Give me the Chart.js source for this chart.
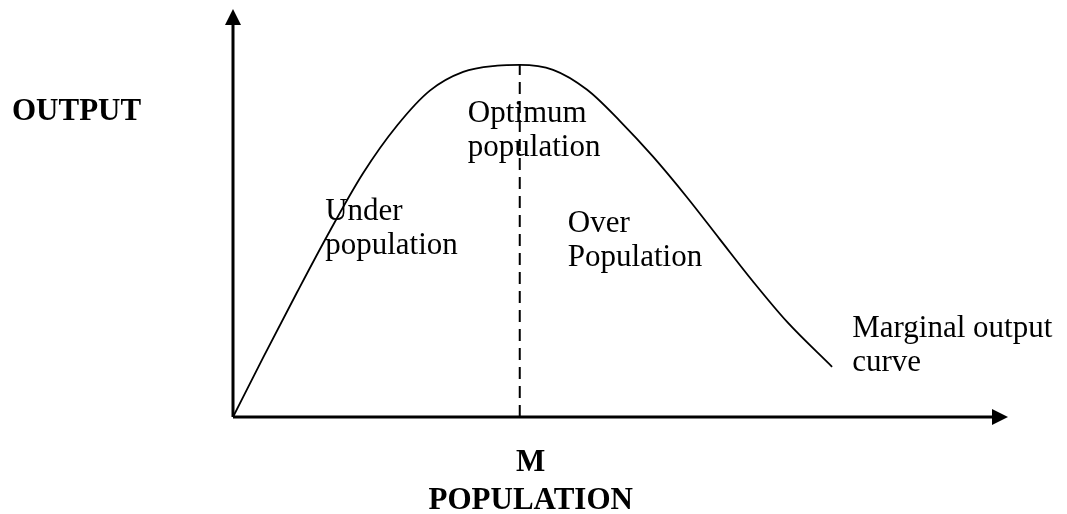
<!DOCTYPE html>
<html>
<head>
<meta charset="utf-8">
<script src="https://cdn.jsdelivr.net/npm/chart.js@4"></script>
<style>
  html, body { margin: 0; padding: 0; background: #fff; }
  #wrap { width: 1067px; height: 514px; }
</style>
</head>
<body>
<div id="wrap"><canvas id="mpChart" width="1067" height="514"></canvas></div>
<script>
// population (x) and marginal output (y)
const population = [0, 3.9, 8.3, 12.5, 16.8, 21.2, 25.4, 29.7, 34.1, 37.0, 41.3, 45.7, 49.9, 54.2, 58.6, 62.8, 67.1, 71.5, 77.3];
const output = [0, 14.6, 30.7, 45.6, 59.8, 71.5, 80.0, 84.6, 86.1, 86.3, 85.1, 80.2, 72.6, 63.8, 53.8, 43.6, 33.2, 23.3, 12.3];

// optimum point M
const optimumX = [37.0, 37.0];
const optimumY = [0, 86.3];

// text inside the plot: lines, x and baseline y of first line, in data units
const regionLabels = [
  { lines: ["Under", "population"], x: 11.9, y: 48.3 },
  { lines: ["Optimum", "population"], x: 30.3, y: 72.3 },
  { lines: ["Over", "Population"], x: 43.2, y: 45.3 },
  { lines: ["Marginal output", "curve"], x: 79.9, y: 19.6 },
];

const serif = "'Liberation Serif', 'Times New Roman', serif";

const diagramPlugin = {
  id: "diagram",
  afterDatasetsDraw(chart) {
    const ctx = chart.ctx;
    const a = chart.chartArea;
    const xs = chart.scales.x, ys = chart.scales.y;
    ctx.save();
    ctx.fillStyle = "#000";
    ctx.strokeStyle = "#000";

    // axes
    ctx.lineWidth = 3;
    ctx.beginPath();
    ctx.moveTo(a.left, a.bottom);
    ctx.lineTo(a.left, a.top + 14);
    ctx.moveTo(a.left, a.bottom);
    ctx.lineTo(a.right - 14, a.bottom);
    ctx.stroke();

    // arrow heads
    ctx.beginPath();
    ctx.moveTo(a.left, a.top);
    ctx.lineTo(a.left - 8, a.top + 16);
    ctx.lineTo(a.left + 8, a.top + 16);
    ctx.closePath();
    ctx.fill();
    ctx.beginPath();
    ctx.moveTo(a.right, a.bottom);
    ctx.lineTo(a.right - 16, a.bottom - 8);
    ctx.lineTo(a.right - 16, a.bottom + 8);
    ctx.closePath();
    ctx.fill();

    // region labels
    ctx.font = "31px " + serif;
    ctx.textAlign = "left";
    ctx.textBaseline = "alphabetic";
    regionLabels.forEach((l) => {
      const px = xs.getPixelForValue(l.x);
      const py = ys.getPixelForValue(l.y);
      l.lines.forEach((t, i) => ctx.fillText(t, px, py + i * 34));
    });

    // axis titles
    ctx.font = "bold 31px " + serif;
    ctx.fillText("OUTPUT", 12, 120);
    ctx.textAlign = "center";
    ctx.fillText("M", xs.getPixelForValue(optimumX[0]) + 11, 471);
    ctx.fillText("POPULATION", xs.getPixelForValue(optimumX[0]) + 11, 509);
    ctx.restore();
  },
};

new Chart(document.getElementById("mpChart"), {
  type: "line",
  data: {
    datasets: [
      {
        label: "Marginal output curve",
        data: population.map((x, i) => ({ x: x, y: output[i] })),
        borderColor: "#000",
        borderWidth: 1.8,
        pointRadius: 0,
        cubicInterpolationMode: "monotone",
        fill: false,
        clip: false,
      },
      {
        label: "Optimum population",
        data: optimumX.map((x, i) => ({ x: x, y: optimumY[i] })),
        borderColor: "#000",
        borderWidth: 2,
        borderDash: [12, 7],
        pointRadius: 0,
        fill: false,
        clip: false,
      },
    ],
  },
  options: {
    responsive: false,
    animation: false,
    layout: { padding: { left: 233, right: 59, top: 9, bottom: 97 } },
    scales: {
      x: { type: "linear", min: 0, max: 100, display: false },
      y: { type: "linear", min: 0, max: 100, display: false },
    },
    plugins: {
      legend: { display: false },
      tooltip: { enabled: false },
    },
  },
  plugins: [diagramPlugin],
});
</script>
</body>
</html>
